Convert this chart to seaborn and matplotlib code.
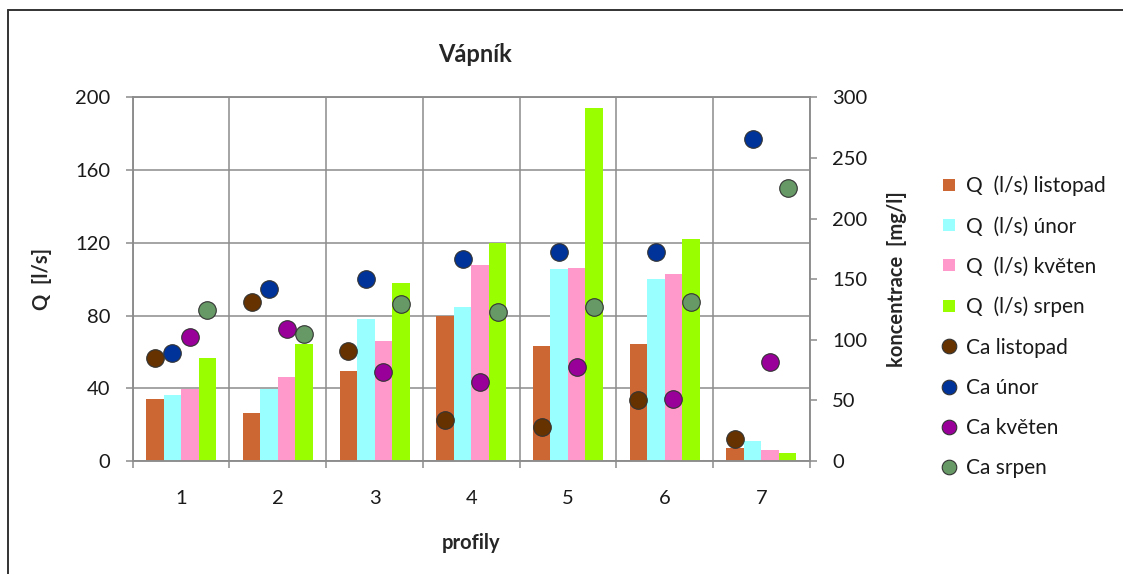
import numpy as np
import pandas as pd
import matplotlib
matplotlib.use("Agg")
import matplotlib.pyplot as plt
from matplotlib.lines import Line2D
import seaborn as sns

# --- data -------------------------------------------------------------
profiles = ["1", "2", "3", "4", "5", "6", "7"]
months = ["listopad", "únor", "květen", "srpen"]

q_listopad = [34.3, 26.2, 49.3, 79.7, 63.2, 64.3, 7.3]
q_unor = [36.3, 39.8, 78.1, 84.9, 105.6, 99.9, 11.2]
q_kveten = [39.6, 46.4, 66.2, 107.6, 105.9, 102.7, 6.0]
q_srpen = [56.8, 64.3, 98.1, 119.7, 194.0, 122.1, 4.2]

ca_listopad = [85.0, 131.2, 90.7, 33.8, 28.0, 50.3, 18.1]
ca_unor = [89.1, 141.9, 150.1, 166.4, 172.4, 172.4, 265.9]
ca_kveten = [102.3, 108.6, 73.4, 65.4, 77.8, 50.9, 81.7]
ca_srpen = [124.8, 104.5, 129.2, 122.6, 127.0, 131.2, 225.5]

q_labels = ["Q  (l/s) " + m for m in months]
ca_labels = ["Ca " + m for m in months]

bar_colors = ["#CC6633", "#99FFFF", "#FF99CC", "#99FF00"]
dot_colors = ["#663300", "#003399", "#990099", "#669966"]

q_series = [q_listopad, q_unor, q_kveten, q_srpen]
ca_series = [ca_listopad, ca_unor, ca_kveten, ca_srpen]

q_df = pd.DataFrame({
    "profil": np.tile(profiles, 4),
    "serie": np.repeat(q_labels, len(profiles)),
    "Q": np.concatenate(q_series),
})

# --- style ------------------------------------------------------------
sns.set_style("white")
plt.rcParams["font.family"] = ["Lato", "DejaVu Sans"]
grid_col = "#8C8C8C"
text_col = "#1A1A1A"

fig = plt.figure(figsize=(11.23, 5.74), dpi=100)
ax = fig.add_axes([0.1182, 0.1969, 0.6029, 0.6336])

group_width = 0.724
sns.barplot(data=q_df, x="profil", y="Q", hue="serie", order=profiles,
            hue_order=q_labels, palette=bar_colors, width=group_width,
            saturation=1, linewidth=0, gap=0, ax=ax, legend=False, zorder=2)

ax.set_ylim(0, 200)
ax.set_yticks(np.arange(0, 201, 40))
ax.set_xlim(-0.5, len(profiles) - 0.5)
ax.set_xticks(np.arange(-0.5, len(profiles), 1), minor=True)
ax.grid(axis="y", which="major", color=grid_col, linewidth=1.1, zorder=0)
ax.grid(axis="x", which="minor", color=grid_col, linewidth=1.1, zorder=0)
ax.set_axisbelow(True)
for sp in ax.spines.values():
    sp.set_color(grid_col)
    sp.set_linewidth(1.1)

ax.tick_params(axis="y", which="major", direction="out", length=5,
               width=1.1, color=grid_col, pad=11, labelsize=14.5,
               left=True, labelcolor=text_col)
ax.tick_params(axis="x", which="major", length=0, pad=21, labelsize=14.5,
               labelcolor=text_col)
ax.tick_params(axis="x", which="minor", direction="out", length=5,
               width=1.1, color=grid_col, bottom=True)

ax.set_xlabel("profily", fontsize=14.5, fontweight="bold")
ax.xaxis.set_label_coords(0.5, -0.225)
ax.xaxis.label.set_va("center")
ax.set_ylabel("Q  [l/s]", fontsize=14.5, fontweight="bold")
ax.yaxis.set_label_coords(-0.134, 0.5)
ax.yaxis.label.set_va("center")

# --- concentration points on the secondary axis ----------------------
ax2 = ax.twinx()
bar_w = group_width / 4
xs = np.arange(len(profiles))
for j, (vals, col, lab) in enumerate(zip(ca_series, dot_colors, ca_labels)):
    sns.scatterplot(x=xs + (j - 1.5) * bar_w, y=vals, color=col, s=160,
                    edgecolor="#333333", linewidth=0.8, ax=ax2, zorder=3,
                    legend=False)
ax2.set_ylim(0, 300)
ax2.set_yticks(np.arange(0, 301, 50))
ax2.set_xlim(-0.5, len(profiles) - 0.5)
ax2.tick_params(axis="y", direction="out", length=5, width=1.1,
                color=grid_col, pad=11, labelsize=14.5, right=True,
                labelcolor=text_col)
for sp in ax2.spines.values():
    sp.set_color(grid_col)
    sp.set_linewidth(1.1)
ax2.set_ylabel("koncentrace  [mg/l]", fontsize=14.5, fontweight="bold")
ax2.yaxis.set_label_coords(1.129, 0.5)
ax2.yaxis.label.set_va("center")

# --- title and legend -------------------------------------------------
fig.text(475 / 1123, 1 - 55 / 574, "Vápník", fontsize=17, fontweight="bold",
         ha="center", va="center")

handles = [Line2D([], [], linestyle="none", marker="s", markersize=9,
                  markerfacecolor=c, markeredgewidth=0) for c in bar_colors]
handles += [Line2D([], [], linestyle="none", marker="o", markersize=10.5,
                   markerfacecolor=c, markeredgecolor="#333333",
                   markeredgewidth=0.8) for c in dot_colors]
fig.legend(handles, q_labels + ca_labels, loc="center left",
           bbox_to_anchor=(940 / 1123, 1 - 327 / 574), frameon=False,
           fontsize=15, labelspacing=0.97, handlelength=0.9,
           handletextpad=0.35, borderpad=0, borderaxespad=0,
           labelcolor=text_col)

# chart frame
fig.add_artist(Line2D([8 / 1123, 1.0], [1 - 10 / 574, 1 - 10 / 574],
                      transform=fig.transFigure, color="#333333", linewidth=1.4))
fig.add_artist(Line2D([8 / 1123, 8 / 1123], [1 - 10 / 574, 0.0],
                      transform=fig.transFigure, color="#333333", linewidth=1.4))

fig.savefig("out.png", dpi=100, facecolor="white")
